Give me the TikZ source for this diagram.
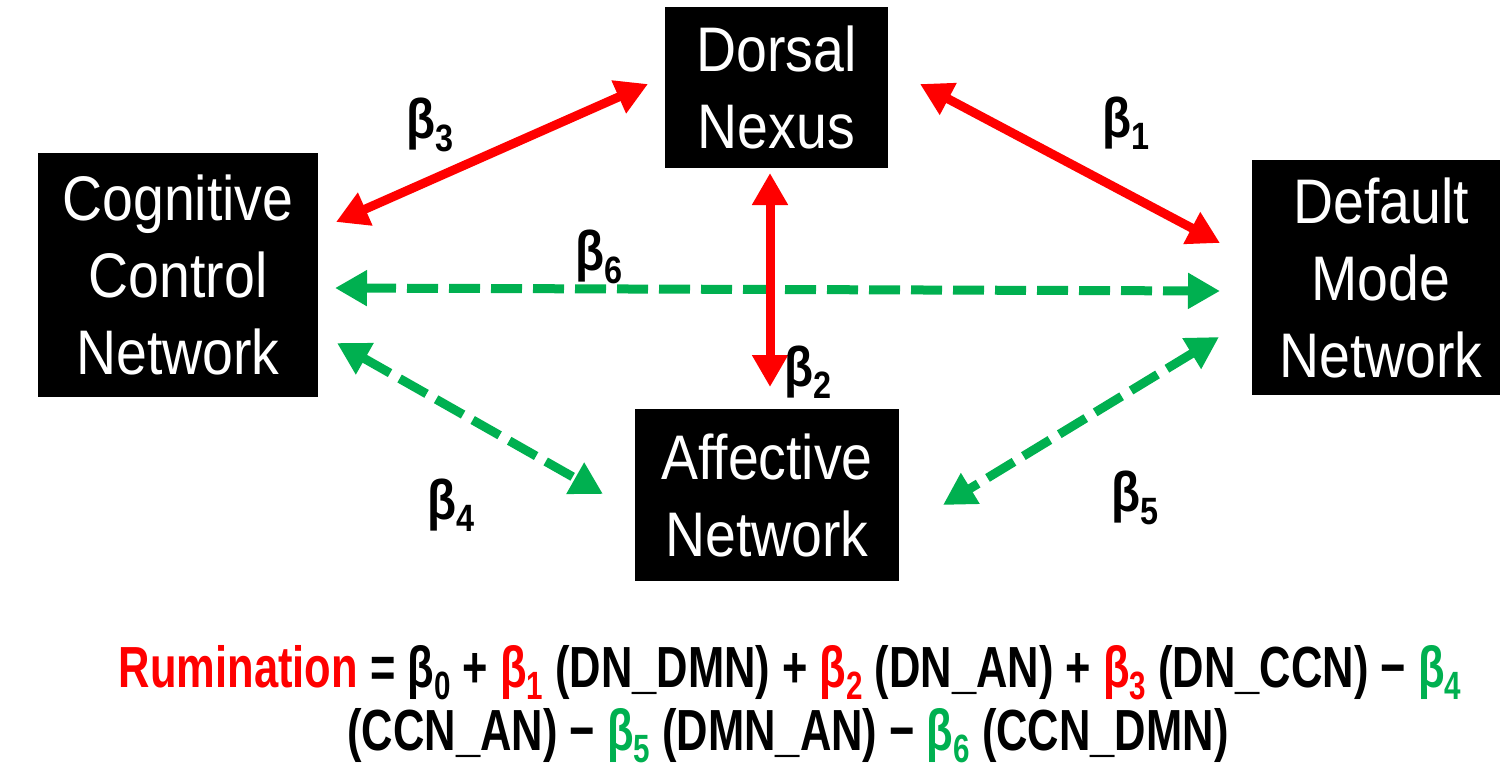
\documentclass[tikz,border=0pt]{standalone}
\usepackage{fontspec}
\usepackage{graphicx}
\usetikzlibrary{arrows.meta}
\newfontfamily\boxfont{Liberation Sans}[FakeStretch=0.88]
\newfontfamily\eqfont{Liberation Sans}[FakeStretch=0.75]
\newfontfamily\lblfont{Liberation Sans}[FakeStretch=0.85]
\definecolor{netred}{HTML}{FF0000}
\definecolor{netgreen}{HTML}{00B050}
% beta with a lowered index
\newcommand\bsub[1]{β\raisebox{-0.22em}{\scalebox{0.68}{#1}}}
\tikzset{
  netbox/.style={fill=black, text=white, align=center, inner sep=0pt,
    font=\boxfont\fontsize{63}{77}\selectfont},
  coef/.style={inner sep=0pt, font=\lblfont\bfseries\fontsize{56}{60}\selectfont},
  eqline/.style={inner sep=0pt, anchor=base, font=\eqfont\bfseries\fontsize{58}{70}\selectfont},
  twoway/.style={arrows={Triangle[length=32pt,width=34pt]-Triangle[length=32pt,width=34pt]}},
  poslink/.style={twoway, line width=9pt, netred},
  neglink/.style={twoway, line width=9pt, netgreen, dash pattern=on 31pt off 11pt}
}
\begin{document}
\begin{tikzpicture}[x=1pt, y=-1pt]
\useasboundingbox (0,0) rectangle (1500,769);

% network boxes
\node[netbox, minimum width=223pt, minimum height=161pt] (dn)  at (776.5,87.5) {Dorsal\\Nexus};
\node[netbox, minimum width=280pt, minimum height=244pt] (ccn) at (178,275) {Cognitive\\Control\\Network};
\node[netbox, minimum width=258pt, minimum height=235pt] (dmn) at (1381,277.5) {Default\\Mode\\Network};
\node[netbox, minimum width=264pt, minimum height=172pt] (an)  at (767,495) {Affective\\Network};

% connector end points
\coordinate (dn-l)  at (648,84);
\coordinate (ccn-t) at (336,222);
\coordinate (dn-r)  at (920,84);
\coordinate (dmn-t) at (1220,243);
\coordinate (dn-b)  at (770,173);
\coordinate (an-t)  at (770,387);
\coordinate (ccn-m) at (335,288);
\coordinate (dmn-m) at (1220,291);
\coordinate (ccn-b) at (337,343);
\coordinate (an-l)  at (603,494);
\coordinate (dmn-b) at (1219,337);
\coordinate (an-r)  at (943,505);

% positive paths
\draw[poslink] (ccn-t) -- (dn-l);
\draw[poslink] (dn-r) -- (dmn-t);
\draw[neglink] (ccn-m) -- (dmn-m);
\draw[poslink] (dn-b) -- (an-t);
% negative paths
\draw[neglink] (ccn-b) -- (an-l);
\draw[neglink] (dmn-b) -- (an-r);

% coefficient labels
\node[coef] (b3) at (430,125) {\bsub{3}};
\node[coef] (b1) at (1126,123) {\bsub{1}};
\node[coef] (b6) at (599,257) {\bsub{6}};
\node[coef] (b2) at (808,372) {\bsub{2}};
\node[coef] (b4) at (451,505) {\bsub{4}};
\node[coef] (b5) at (1135,498) {\bsub{5}};

% regression model
\node[eqline] (eq1) at (790,687) {\textcolor{netred}{Rumination} = \bsub{0} + \textcolor{netred}{\bsub{1}} (DN\_DMN) + \textcolor{netred}{\bsub{2}} (DN\_AN) + \textcolor{netred}{\bsub{3}} (DN\_CCN) − \textcolor{netgreen}{\bsub{4}}};
\node[eqline] (eq2) at (788,750) {(CCN\_AN) − \textcolor{netgreen}{\bsub{5}} (DMN\_AN) − \textcolor{netgreen}{\bsub{6}} (CCN\_DMN)};
\end{tikzpicture}
\end{document}
